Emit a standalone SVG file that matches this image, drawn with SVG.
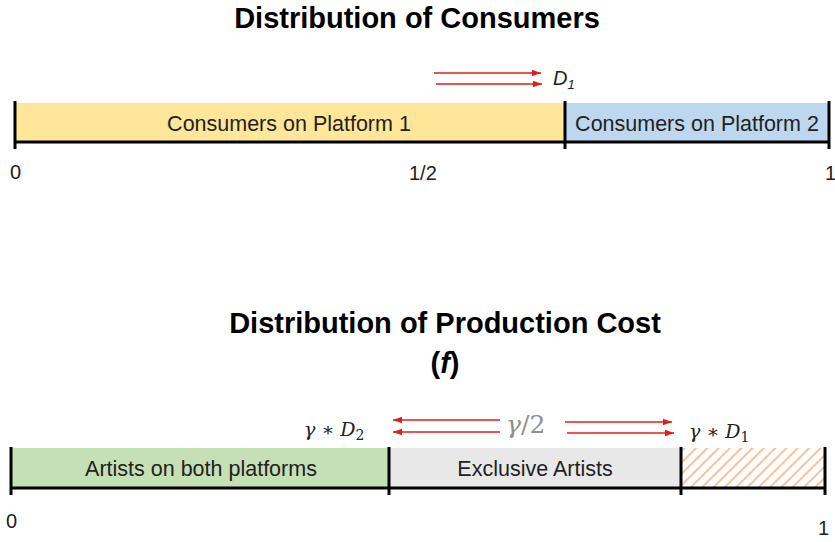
<svg xmlns="http://www.w3.org/2000/svg" width="835" height="542" viewBox="0 0 835 542">
<style>
.title{font-family:"Liberation Sans",Arial,sans-serif;font-weight:bold;font-size:29px;fill:#000;text-anchor:middle}
.lbl{font-family:"Liberation Sans",Arial,sans-serif;font-size:21.5px;fill:#222;text-anchor:middle}
.num{font-family:"Liberation Sans",Arial,sans-serif;font-size:20px;fill:#222}
.math{font-family:"DejaVu Serif","Liberation Serif",serif;font-size:19px;fill:#222}
.axis{stroke:#000;stroke-width:3;fill:none}
.arr{stroke:#E31B1B;stroke-width:1.5;fill:none}
</style>
<defs>
<marker id="ah" markerUnits="userSpaceOnUse" markerWidth="10" markerHeight="8" refX="9" refY="4" orient="auto">
<path d="M0,0.8 L9,4 L0,7.2 Z" fill="#E31B1B"/>
</marker>
<pattern id="hatch" patternUnits="userSpaceOnUse" width="8" height="8" patternTransform="rotate(45)">
<rect width="8" height="8" fill="#fff"/>
<line x1="0" y1="0" x2="0" y2="8" stroke="#F8C29C" stroke-width="4"/>
</pattern>
</defs>

<text class="title" x="417" y="28">Distribution of Consumers</text>

<g id="platform1">
<rect x="15" y="103" width="550" height="39" fill="#FFE699"/>
<text class="lbl" x="289" y="131">Consumers on Platform 1</text>
</g>
<g id="platform2">
<rect x="565" y="103" width="264" height="39" fill="#BDD7EE"/>
<text class="lbl" x="697" y="131">Consumers on Platform 2</text>
</g>
<g id="axis-top">
<line class="axis" x1="15" y1="142" x2="829" y2="142"/>
<line class="axis" x1="15" y1="101" x2="15" y2="149"/>
<line class="axis" x1="565" y1="101" x2="565" y2="149"/>
<line class="axis" x1="829" y1="101" x2="829" y2="149"/>
<text class="num" x="10" y="179">0</text>
<text class="num" x="409" y="180">1/2</text>
<text class="num" x="825" y="180">1</text>
</g>

<g id="connectors">
<line class="arr" x1="434" y1="73" x2="541" y2="73" marker-end="url(#ah)"/>
<line class="arr" x1="436" y1="84" x2="542" y2="84" marker-end="url(#ah)"/>
<line class="arr" x1="500" y1="420" x2="393" y2="420" marker-end="url(#ah)"/>
<line class="arr" x1="500" y1="432" x2="393" y2="432" marker-end="url(#ah)"/>
<line class="arr" x1="565" y1="422" x2="672" y2="422" marker-end="url(#ah)"/>
<line class="arr" x1="567" y1="433" x2="674" y2="433" marker-end="url(#ah)"/>
</g>
<g id="d1-top">
<text x="553" y="85" font-family="Liberation Sans,Arial,sans-serif" font-style="italic" font-size="20" fill="#222">D<tspan font-size="13" dy="4">1</tspan></text>
</g>

<text class="title" x="445" y="333">Distribution of Production Cost</text>
<text class="title" x="445" y="373">(<tspan font-style="italic">f</tspan>)</text>

<g id="both">
<rect x="11" y="448" width="378" height="40" fill="#C5E0B4"/>
<text class="lbl" x="201" y="476">Artists on both platforms</text>
</g>
<g id="exclusive">
<rect x="389" y="448" width="292" height="40" fill="#E8E8E8"/>
<text class="lbl" x="535" y="476">Exclusive Artists</text>
</g>
<g id="hatched">
<rect x="681" y="448" width="144" height="40" fill="url(#hatch)"/>
</g>
<g id="axis-bottom">
<line class="axis" x1="11" y1="488" x2="825" y2="488"/>
<line class="axis" x1="11" y1="447" x2="11" y2="495"/>
<line class="axis" x1="389" y1="447" x2="389" y2="495"/>
<line class="axis" x1="681" y1="447" x2="681" y2="495"/>
<line class="axis" x1="825" y1="447" x2="825" y2="495"/>
<text class="num" x="6" y="528">0</text>
<text class="num" x="818" y="535">1</text>
</g>
<g id="labels-math">
<text class="math" x="304" y="436"><tspan font-style="italic">γ</tspan> ∗ <tspan font-style="italic">D</tspan><tspan font-size="14" dy="4">2</tspan></text>
<text class="math" x="506" y="433" style="fill:#8F8F8F;font-size:25px"><tspan font-style="italic">γ</tspan>/2</text>
<text class="math" x="689" y="438"><tspan font-style="italic">γ</tspan> ∗ <tspan font-style="italic">D</tspan><tspan font-size="14" dy="4">1</tspan></text>
</g>
</svg>
